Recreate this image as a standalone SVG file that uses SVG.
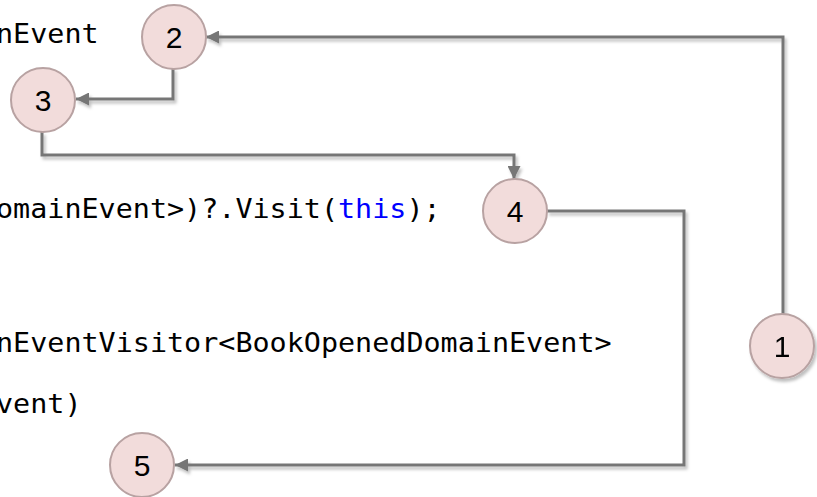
<svg xmlns="http://www.w3.org/2000/svg" width="817" height="497" viewBox="0 0 817 497">
  <style>
    .code { font-family: "DejaVu Sans Mono", "Liberation Mono", monospace; font-size: 27px; fill: #000000; }
    .kw { fill: #0000ff; }
    .node circle { fill: #f2dcdb; stroke: #b8a2a2; stroke-width: 2; }
    .node text { font-family: "Liberation Sans", Arial, sans-serif; font-size: 30px; fill: #000000; text-anchor: middle; }
    .conn { fill: none; stroke: #767676; stroke-width: 3; marker-end: url(#arrow); }
  </style>
  <defs>
    <marker id="arrow" viewBox="0 0 12 12" refX="12" refY="6" markerWidth="13" markerHeight="13" markerUnits="userSpaceOnUse" orient="auto">
      <path d="M0,0 L12,6 L0,12 Z" fill="#767676"/>
    </marker>
    <filter id="shadow" x="-10%" y="-10%" width="130%" height="130%">
      <feDropShadow dx="2" dy="3" stdDeviation="1.5" flood-color="#000000" flood-opacity="0.25"/>
    </filter>
  </defs>

  <g id="code">
    <text class="code" x="-4" y="43" textLength="102.6" lengthAdjust="spacingAndGlyphs">nEvent</text>
    <text class="code" x="-4" y="218" textLength="444.6" lengthAdjust="spacingAndGlyphs">omainEvent&gt;)?.Visit(<tspan class="kw">this</tspan>);</text>
    <text class="code" x="-4" y="352" textLength="615.6" lengthAdjust="spacingAndGlyphs">nEventVisitor&lt;BookOpenedDomainEvent&gt;</text>
    <text class="code" x="-4" y="413" textLength="85.5" lengthAdjust="spacingAndGlyphs">vent)</text>
  </g>

  <g id="connectors" filter="url(#shadow)">
    <path class="conn" d="M783,314 L783,37 L206,37"/>
    <path class="conn" d="M173,68 L173,99 L76,99"/>
    <path class="conn" d="M42,132 L42,155 L514,155 L514,179"/>
    <path class="conn" d="M547,211 L684,211 L684,465 L175,465"/>
  </g>

  <g id="node1" class="node" filter="url(#shadow)">
    <circle cx="782" cy="346" r="32"/>
    <text x="782" y="357">1</text>
  </g>
  <g id="node2" class="node">
    <circle cx="174" cy="37" r="32"/>
    <text x="174" y="48">2</text>
  </g>
  <g id="node3" class="node">
    <circle cx="43" cy="100" r="32"/>
    <text x="43" y="111">3</text>
  </g>
  <g id="node4" class="node">
    <circle cx="515" cy="211" r="32"/>
    <text x="515" y="222">4</text>
  </g>
  <g id="node5" class="node">
    <circle cx="142" cy="465" r="32"/>
    <text x="142" y="476">5</text>
  </g>
</svg>
